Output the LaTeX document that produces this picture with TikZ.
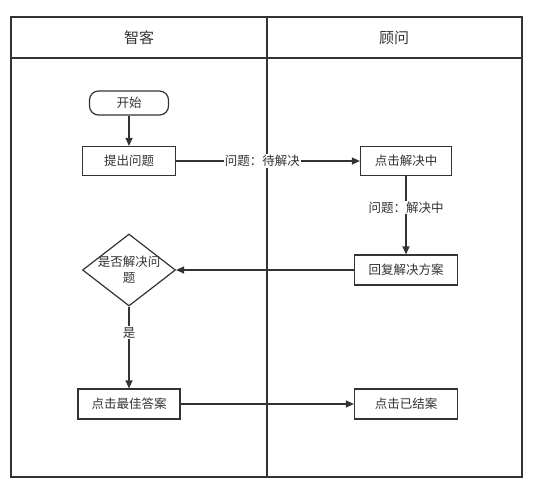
\documentclass[tikz,border=0pt]{standalone}
\usepackage{fontspec}
\setmainfont{Noto Sans CJK SC}
\usetikzlibrary{arrows.meta,shapes.geometric}
\definecolor{linegray}{HTML}{333333}
\tikzset{
  lane/.style={draw=linegray,line width=1.6pt},
  head/.style={font=\fontsize{15}{17}\selectfont,text=linegray},
  taskbox/.style={draw=linegray,line width=1.2pt,minimum height=29pt,inner sep=0pt,font=\fontsize{12.5}{15}\selectfont,text=linegray},
  startbox/.style={taskbox,rounded corners=9pt,minimum height=24pt},
  decision/.style={diamond,draw=linegray,line width=1.2pt,minimum width=93pt,minimum height=72pt,inner sep=0pt},
  flow/.style={draw=linegray,line width=1.2pt,-{Triangle[length=8pt,width=7pt]}},
  tag/.style={fill=white,inner sep=1pt,font=\fontsize{12.5}{15}\selectfont,text=linegray}
}
\begin{document}
\begin{tikzpicture}[x=1pt,y=-1pt]
	\useasboundingbox (0,0) rectangle (537,488);
	% lanes
	\draw[lane] (11,17) rectangle (522,477);
	\draw[lane] (11,58)--(522,58);
	\draw[lane] (267,17)--(267,477);
	\node[head] (zhike) at (139,38) {智客};
	\node[head] (guwen) at (394,38) {顾问};
	% steps
	\node[startbox,minimum width=79pt] (start) at (129,103) {开始};
	\node[taskbox,minimum width=93pt] (ask) at (129,161) {提出问题};
	\node[taskbox,minimum width=91pt] (solving) at (406,161) {点击解决中};
	\node[taskbox,minimum width=103pt,minimum height=30pt] (reply) at (406,270) {回复解决方案};
	\node[decision] (judge) at (129,270) {};
	\node[align=center,font=\fontsize{12.5}{16}\selectfont,text=linegray] (judgetext) at (judge) {是否解决问\\题};
	\node[taskbox,minimum width=102pt,minimum height=30pt] (best) at (129,404) {点击最佳答案};
	\node[taskbox,minimum width=103pt,minimum height=30pt] (closed) at (406,404) {点击已结案};
	% flows
	\draw[flow] (start)--(ask);
	\draw[flow] (ask)--node[tag,pos=0.47] {问题：待解决} (solving);
	\draw[flow] (solving)--node[tag,pos=0.4] {问题：解决中} (reply);
	\draw[flow] (reply)--(judge.east);
	\draw[flow] (judge)--node[tag,pos=0.32] {是} (best);
	\draw[flow] (best)--(closed);
\end{tikzpicture}
\end{document}
